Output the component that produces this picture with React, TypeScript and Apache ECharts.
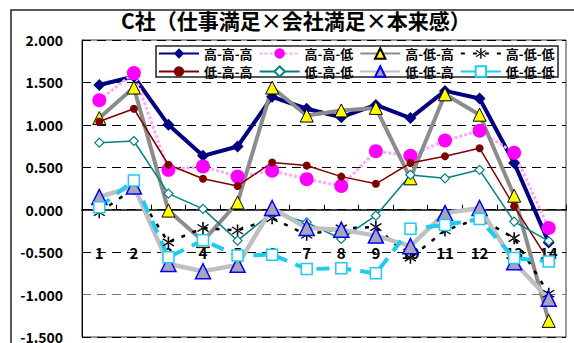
import React, { useEffect, useRef } from "react";
import * as echarts from "echarts";

const categories = ["1", "2", "3", "4", "5", "6", "7", "8", "9", "10", "11", "12", "13", "14"];

const seriesNames = ["高-高-高", "高-高-低", "高-低-高", "高-低-低", "低-高-高", "低-高-低", "低-低-高", "低-低-低"];

const hhh = [1.47, 1.57, 1.0, 0.635, 0.745, 1.33, 1.19, 1.09, 1.235, 1.08, 1.4, 1.31, 0.55, -0.385];
const hhl = [1.29, 1.61, 0.47, 0.51, 0.39, 0.46, 0.36, 0.28, 0.69, 0.635, 0.815, 0.93, 0.67, -0.215];
const hlh = [1.08, 1.44, -0.01, -0.37, 0.085, 1.44, 1.11, 1.17, 1.2, 0.37, 1.36, 1.12, 0.165, -1.31];
const hll = [-0.03, 0.25, -0.385, -0.215, -0.245, -0.1, -0.295, -0.22, -0.205, -0.565, -0.245, -0.1, -0.335, -0.99];
const lhh = [1.04, 1.19, 0.53, 0.365, 0.28, 0.557, 0.52, 0.39, 0.305, 0.55, 0.63, 0.725, 0.04, -0.6];
const lhl = [0.79, 0.81, 0.19, 0.01, -0.365, -0.03, -0.15, -0.345, -0.07, 0.41, 0.37, 0.47, -0.14, -0.37];
const llh = [0.15, 0.275, -0.64, -0.725, -0.65, 0.02, -0.215, -0.235, -0.305, -0.43, -0.04, 0.02, -0.62, -1.05];
const lll = [0.03, 0.345, -0.56, -0.36, -0.54, -0.53, -0.7, -0.69, -0.75, -0.225, -0.18, -0.11, -0.57, -0.61];

const Y_MIN = -1.5;
const Y_MAX = 2.0;

const FONT = "'Noto Sans CJK JP', 'Noto Sans', sans-serif";

// six-armed asterisk marker (vertical bar plus two diagonals)
const ASTERISK =
  "path://M9,0L11,0L11,20L9,20Z" +
  "M2.35,4.76L16.35,16.76L17.65,15.24L3.65,3.24Z" +
  "M17.65,4.76L3.65,16.76L2.35,15.24L16.35,3.24Z";

const GRID_TOP = 40;
const GRID_BOTTOM = 6;
const CHART_H = 343;

export default function App() {
  const ref = useRef<HTMLDivElement>(null);

  useEffect(() => {
    if (!ref.current) return;
    const chart = echarts.init(ref.current, undefined, { renderer: "svg" });

    // lift the category axis from the plot bottom up to the zero line
    const plotH = CHART_H - GRID_TOP - GRID_BOTTOM;
    const zeroOffset = -plotH * ((0 - Y_MIN) / (Y_MAX - Y_MIN));

    const legendCommon = {
      left: 158,
      orient: "horizontal" as const,
      itemWidth: 40,
      itemHeight: 13,
      itemGap: 6,
      padding: 0,
      textStyle: { fontFamily: FONT, fontSize: 13, fontWeight: "bold" as const, color: "#000" },
    };

    chart.setOption({
      animation: false,
      backgroundColor: "#fff",
      title: {
        text: "C社（仕事満足×会社満足×本来感）",
        left: 121,
        top: 9,
        padding: 0,
        textStyle: { fontFamily: FONT, fontSize: 21, fontWeight: "bold", color: "#000" },
      },
      legend: [
        { ...legendCommon, top: 47, data: seriesNames.slice(0, 4) },
        {
          ...legendCommon,
          top: 65,
          data: [
            seriesNames[4],
            seriesNames[5],
            seriesNames[6],
            { name: seriesNames[7], lineStyle: { type: "solid" } },
          ],
        },
      ],
      graphic: [
        {
          type: "rect",
          shape: { x: 11, y: 10, width: 700, height: 500 },
          style: { fill: "none", stroke: "#222", lineWidth: 1.5 },
          z: 0,
        },
        {
          type: "rect",
          shape: { x: 156, y: 46, width: 402, height: 31 },
          style: { fill: "#fff", stroke: "#222", lineWidth: 1.5 },
          z: 1,
        },
      ],
      grid: {
        left: 82,
        top: GRID_TOP,
        right: 8,
        bottom: GRID_BOTTOM,
        containLabel: false,
        outerBoundsMode: "none",
        show: true,
        borderColor: "#333",
        borderWidth: 1,
        backgroundColor: "transparent",
      },
      xAxis: {
        type: "category",
        data: categories,
        boundaryGap: true,
        position: "bottom",
        offset: zeroOffset,
        axisLine: { show: true, onZero: false, lineStyle: { color: "#000", width: 1.5 } },
        axisTick: { show: true, inside: true, length: 5, lineStyle: { color: "#000", width: 1 } },
        axisLabel: { margin: 35, fontFamily: FONT, fontSize: 15, fontWeight: "bold", color: "#000" },
        splitLine: { show: false },
        z: 3,
      },
      yAxis: {
        type: "value",
        min: Y_MIN,
        max: Y_MAX,
        interval: 0.5,
        axisLine: { show: true, lineStyle: { color: "#000" } },
        axisTick: { show: false },
        axisLabel: {
          margin: 19,
          fontFamily: FONT,
          fontSize: 14,
          fontWeight: "bold",
          color: "#000",
          formatter: (v: number) => v.toFixed(3),
        },
        splitLine: {
          show: true,
          lineStyle: {
            type: [9, 6],
            width: 1,
            color: ["#000", "#777", "#000", "#000", "#000", "#000", "#000", "#000"],
          },
        },
      },
      series: [
        {
          name: seriesNames[0],
          type: "line",
          data: hhh,
          symbol: "diamond",
          symbolSize: 12,
          lineStyle: { color: "#000080", width: 4 },
          itemStyle: { color: "#000080" },
          z: 4,
        },
        {
          name: seriesNames[1],
          type: "line",
          data: hhl,
          symbol: "circle",
          symbolSize: 14,
          lineStyle: { color: "#ffa8ff", width: 3, type: [3, 2] },
          itemStyle: { color: "#ff00ff" },
          z: 4,
        },
        {
          name: seriesNames[2],
          type: "line",
          data: hlh,
          symbol: "triangle",
          symbolSize: 13,
          lineStyle: { color: "#8c8c8c", width: 4 },
          itemStyle: { color: "#ffff00", borderColor: "#000", borderWidth: 1 },
          z: 4,
        },
        {
          name: seriesNames[3],
          type: "line",
          data: hll,
          symbol: ASTERISK,
          symbolSize: 12,
          lineStyle: { color: "#000", width: 2.5, type: [4, 8] },
          itemStyle: { color: "#000" },
          z: 4,
        },
        {
          name: seriesNames[4],
          type: "line",
          data: lhh,
          symbol: "circle",
          symbolSize: 8,
          lineStyle: { color: "#800000", width: 1.5 },
          itemStyle: { color: "#800000" },
          z: 4,
        },
        {
          name: seriesNames[5],
          type: "line",
          data: lhl,
          symbol: "diamond",
          symbolSize: 9,
          lineStyle: { color: "#008080", width: 1.5 },
          itemStyle: { color: "#fff", borderColor: "#008080", borderWidth: 1.2 },
          z: 4,
        },
        {
          name: seriesNames[6],
          type: "line",
          data: llh,
          symbol: "triangle",
          symbolSize: 15,
          lineStyle: { color: "#c0c0c0", width: 4.5 },
          itemStyle: { color: "#a6a6b8", borderColor: "#0000ff", borderWidth: 1.5 },
          z: 4,
        },
        {
          name: seriesNames[7],
          type: "line",
          data: lll,
          symbol: "rect",
          symbolSize: 11,
          lineStyle: { color: "#1ecbf2", width: 4, type: [13, 9] },
          itemStyle: { color: "#fff", borderColor: "#1ecbf2", borderWidth: 1.5 },
          z: 4,
        },
      ],
    });

    return () => chart.dispose();
  }, []);

  return (
    <div
      ref={ref}
      style={{ position: "fixed", left: 0, top: 0, width: 574, height: 343, background: "#fff" }}
    />
  );
}
